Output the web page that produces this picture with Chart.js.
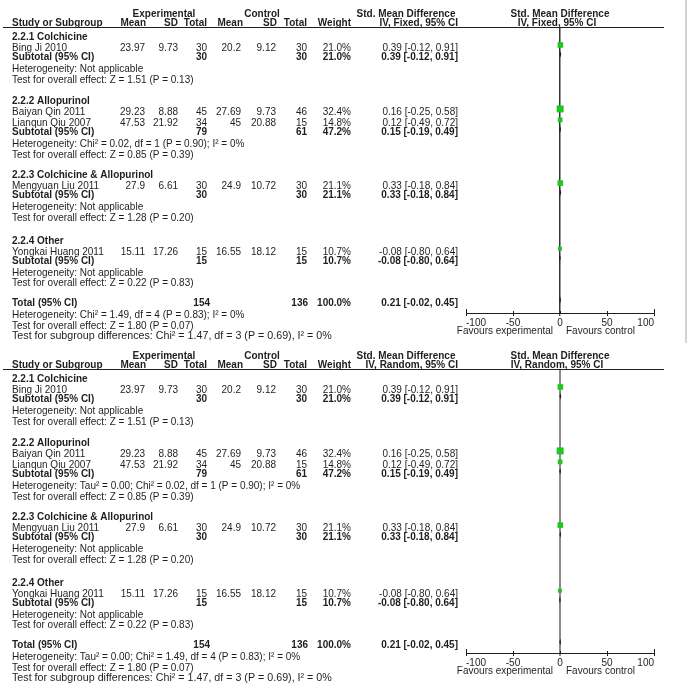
<!DOCTYPE html>
<html>
<head>
<meta charset="utf-8">
<script src="https://cdn.jsdelivr.net/npm/chart.js@4.4.1/dist/chart.umd.min.js"></script>
<style>
  html, body { margin: 0; padding: 0; background: #fff; overflow: hidden; }
  #wrap { position: relative; width: 689px; height: 683px; }
  canvas { position: absolute; left: 0; }
  #edge { position: absolute; left: 685px; top: 0; width: 2px; height: 343px; background: #d4d4d4; }
</style>
</head>
<body>
<div id="wrap">
  <canvas id="fixedPlot" width="689" height="342" style="top:0px"></canvas>
  <canvas id="randomPlot" width="689" height="341" style="top:342px"></canvas>
  <div id="edge"></div>
</div>
<script>
// ---- data ----
var groups = ['2.2.1 Colchicine', '2.2.2 Allopurinol', '2.2.3 Colchicine & Allopurinol', '2.2.4 Other'];
var studies = ['Bing Ji 2010', 'Baiyan Qin 2011', 'Lianqun Qiu 2007', 'Mengyuan Liu 2011', 'Yongkai Huang 2011'];
var studyGroup = [0, 1, 1, 2, 3];
var expMean = ['23.97', '29.23', '47.53', '27.9', '15.11'];
var expSD = ['9.73', '8.88', '21.92', '6.61', '17.26'];
var expTotal = [30, 45, 34, 30, 15];
var ctlMean = ['20.2', '27.69', '45', '24.9', '16.55'];
var ctlSD = ['9.12', '9.73', '20.88', '10.72', '18.12'];
var ctlTotal = [30, 46, 15, 30, 15];
var weight = [21.0, 32.4, 14.8, 21.1, 10.7];
var smd = [0.39, 0.16, 0.12, 0.33, -0.08];
var smdLo = [-0.12, -0.25, -0.49, -0.18, -0.80];
var smdHi = [0.91, 0.58, 0.72, 0.84, 0.64];

var subExpTotal = [30, 79, 30, 15];
var subCtlTotal = [30, 61, 30, 15];
var subWeight = [21.0, 47.2, 21.1, 10.7];
var subSmd = [0.39, 0.15, 0.33, -0.08];
var subLo = [-0.12, -0.19, -0.18, -0.80];
var subHi = [0.91, 0.49, 0.84, 0.64];
var subHetFixed = ['Heterogeneity: Not applicable',
  'Heterogeneity: Chi\u00b2 = 0.02, df = 1 (P = 0.90); I\u00b2 = 0%',
  'Heterogeneity: Not applicable', 'Heterogeneity: Not applicable'];
var subHetRandom = ['Heterogeneity: Not applicable',
  'Heterogeneity: Tau\u00b2 = 0.00; Chi\u00b2 = 0.02, df = 1 (P = 0.90); I\u00b2 = 0%',
  'Heterogeneity: Not applicable', 'Heterogeneity: Not applicable'];
var subEffect = ['Test for overall effect: Z = 1.51 (P = 0.13)', 'Test for overall effect: Z = 0.85 (P = 0.39)',
  'Test for overall effect: Z = 1.28 (P = 0.20)', 'Test for overall effect: Z = 0.22 (P = 0.83)'];

var totalExp = 154, totalCtl = 136, totalWeight = 100.0;
var totalSmd = 0.21, totalLo = -0.02, totalHi = 0.45;
var totalHetFixed = 'Heterogeneity: Chi\u00b2 = 1.49, df = 4 (P = 0.83); I\u00b2 = 0%';
var totalHetRandom = 'Heterogeneity: Tau\u00b2 = 0.00; Chi\u00b2 = 1.49, df = 4 (P = 0.83); I\u00b2 = 0%';
var totalEffect = 'Test for overall effect: Z = 1.80 (P = 0.07)';
var subgroupDiff = 'Test for subgroup differences: Chi\u00b2 = 1.47, df = 3 (P = 0.69), I\u00b2 = 0%';

var xTicks = [-100, -50, 0, 50, 100];

// ---- layout (row units) ----
var groupRow = [0, 5.95, 12.85, 18.95];
var totalRow = 24.75;
var studyRow = [];
(function () {
  var seen = {};
  studies.forEach(function (s, i) {
    var g = studyGroup[i];
    seen[g] = (seen[g] || 0) + 1;
    studyRow.push(groupRow[g] + seen[g] * 1.02);
  });
})();
function lastStudyRow(g) {
  var r = groupRow[g];
  studyGroup.forEach(function (sg, i) { if (sg === g) r = studyRow[i]; });
  return r;
}
var subRow = groups.map(function (g, i) { return lastStudyRow(i) + 0.87; });

var FONT = '"Liberation Sans", Arial, Helvetica, sans-serif';
var INK = '#1e1e1e';
var GREEN = '#1ec81e';
var ROW_PX = 10.75;
var Y_MIN = -0.651;
var TEXT_STRETCH = 1.08;   // the scan is a bit taller than wide

var col = {
  name: 12, eMean: 145, eSD: 178, eTot: 207, cMean: 241, cSD: 276, cTot: 307, weight: 351, ci: 458
};

function ciText(m, lo, hi) {
  return m.toFixed(2) + ' [' + lo.toFixed(2) + ', ' + hi.toFixed(2) + ']';
}

var forestTable = {
  id: 'forestTable',
  beforeDatasetsDraw: function (chart) {
    var ctx = chart.ctx, x = chart.scales.x, y = chart.scales.y;
    ctx.save();
    ctx.strokeStyle = INK;
    ctx.fillStyle = INK;
    ctx.lineWidth = 1;
    // study CIs
    studies.forEach(function (s, i) {
      var py = y.getPixelForValue(studyRow[i]);
      ctx.beginPath();
      ctx.moveTo(x.getPixelForValue(smdLo[i]), py);
      ctx.lineTo(x.getPixelForValue(smdHi[i]), py);
      ctx.stroke();
    });
    // diamonds
    function diamond(m, lo, hi, row) {
      var py = y.getPixelForValue(row), pm = x.getPixelForValue(m);
      var pl = Math.min(x.getPixelForValue(lo), pm - 0.8);
      var ph = Math.max(x.getPixelForValue(hi), pm + 0.8);
      ctx.beginPath();
      ctx.moveTo(pl, py);
      ctx.lineTo(pm, py - 3.5);
      ctx.lineTo(ph, py);
      ctx.lineTo(pm, py + 3.5);
      ctx.closePath();
      ctx.fill();
    }
    groups.forEach(function (g, i) { diamond(subSmd[i], subLo[i], subHi[i], subRow[i]); });
    diamond(totalSmd, totalLo, totalHi, totalRow);
    ctx.restore();
  },
  afterDraw: function (chart, args, opts) {
    var ctx = chart.ctx, x = chart.scales.x, y = chart.scales.y, area = chart.chartArea;
    var x0 = x.getPixelForValue(0);
    ctx.save();
    ctx.fillStyle = INK;
    ctx.textBaseline = 'middle';
    function txtAt(s, px, py, align, bold, sx) {
      ctx.font = (bold ? 'bold ' : '') + '10px ' + FONT;
      ctx.textAlign = align || 'left';
      ctx.save();
      ctx.translate(px, py);
      ctx.scale(sx || 1, TEXT_STRETCH);
      ctx.fillText(s, 0, 0);
      ctx.restore();
    }
    function txt(s, px, row, align, bold, sx) {
      txtAt(s, px, y.getPixelForValue(row) + 3, align, bold, sx);
    }
    // header
    var h1 = area.top - 13, h2 = area.top - 3.5;
    txtAt('Experimental', 164, h1, 'center', true);
    txtAt('Control', 262, h1, 'center', true);
    txtAt('Std. Mean Difference', 406, h1, 'center', true);
    txtAt('Std. Mean Difference', x0, h1, 'center', true);
    txtAt('Study or Subgroup', col.name, h2, 'left', true);
    txtAt('Mean', 146, h2, 'right', true);
    txtAt('SD', 178, h2, 'right', true);
    txtAt('Total', col.eTot, h2, 'right', true);
    txtAt('Mean', 243, h2, 'right', true);
    txtAt('SD', 277, h2, 'right', true);
    txtAt('Total', col.cTot, h2, 'right', true);
    txtAt('Weight', col.weight, h2, 'right', true);
    txtAt(opts.method, col.ci, h2, 'right', true);
    txtAt(opts.method, x0 - 3, h2, 'center', true);
    ctx.strokeStyle = INK;
    ctx.lineWidth = 1;
    ctx.beginPath();
    ctx.moveTo(3, area.top + 0.5);
    ctx.lineTo(664, area.top + 0.5);
    ctx.stroke();

    // subgroups
    groups.forEach(function (g, gi) {
      txt(g, col.name, groupRow[gi], 'left', true);
      studies.forEach(function (s, i) {
        if (studyGroup[i] !== gi) return;
        var r = studyRow[i];
        txt(s, col.name, r);
        txt(expMean[i], col.eMean, r, 'right');
        txt(expSD[i], col.eSD, r, 'right');
        txt(String(expTotal[i]), col.eTot, r, 'right');
        txt(ctlMean[i], col.cMean, r, 'right');
        txt(ctlSD[i], col.cSD, r, 'right');
        txt(String(ctlTotal[i]), col.cTot, r, 'right');
        txt(weight[i].toFixed(1) + '%', col.weight, r, 'right');
        txt(ciText(smd[i], smdLo[i], smdHi[i]), col.ci, r, 'right');
      });
      var sr = subRow[gi];
      txt('Subtotal (95% CI)', col.name, sr, 'left', true);
      txt(String(subExpTotal[gi]), col.eTot, sr, 'right', true);
      txt(String(subCtlTotal[gi]), col.cTot, sr, 'right', true);
      txt(subWeight[gi].toFixed(1) + '%', col.weight, sr, 'right', true);
      txt(ciText(subSmd[gi], subLo[gi], subHi[gi]), col.ci, sr, 'right', true);
      txt(opts.subHet[gi], col.name, sr + 1.1);
      txt(subEffect[gi], col.name, sr + 2.08);
    });
    // total
    txt('Total (95% CI)', col.name, totalRow, 'left', true);
    txt(String(totalExp), col.eTot + 3, totalRow, 'right', true);
    txt(String(totalCtl), col.cTot + 1, totalRow, 'right', true);
    txt(totalWeight.toFixed(1) + '%', col.weight, totalRow, 'right', true);
    txt(ciText(totalSmd, totalLo, totalHi), col.ci, totalRow, 'right', true);
    txt(opts.totalHet, col.name, totalRow + 1.15);
    txt(totalEffect, col.name, totalRow + 2.12);
    txt(subgroupDiff, col.name, totalRow + 3.08, 'left', false, 1.07);

    // axis: short upward tick nubs + favours labels
    ctx.strokeStyle = INK;
    ctx.lineWidth = 1;
    x.ticks.forEach(function (t, i) {
      var px = Math.round(x.getPixelForValue(t.value)) + 0.5;
      var up = (i === 0 || i === x.ticks.length - 1) ? 4 : 2;
      ctx.beginPath();
      ctx.moveTo(px, area.bottom);
      ctx.lineTo(px, area.bottom - up);
      ctx.stroke();
    });
    txtAt('Favours experimental', x0 - 7, area.bottom + 18, 'right');
    txtAt('Favours control', x0 + 6, area.bottom + 18, 'left');
    ctx.restore();
  }
};

function makePlot(id, method, subHet, totalHet, zeroColor, zeroWidth, axisBottom, canvasH) {
  var yMax = Y_MIN + (axisBottom - 27) / ROW_PX;
  return new Chart(document.getElementById(id), {
    type: 'scatter',
    data: {
      datasets: [{
        data: studies.map(function (s, i) { return { x: smd[i], y: studyRow[i] }; }),
        pointStyle: 'rect',
        pointRadius: weight.map(function (w) { return 0.87 * Math.sqrt(w); }),
        backgroundColor: GREEN,
        borderColor: GREEN,
        borderWidth: 0
      }]
    },
    options: {
      responsive: false,
      animation: false,
      events: [],
      layout: { padding: { left: 466, right: 35, top: 27, bottom: canvasH - axisBottom - 20 } },
      plugins: {
        legend: { display: false },
        tooltip: { enabled: false },
        forestTable: { method: method, subHet: subHet, totalHet: totalHet }
      },
      scales: {
        x: {
          type: 'linear',
          min: -100,
          max: 100,
          afterFit: function (scale) { scale.height = 20; },
          afterBuildTicks: function (scale) {
            scale.ticks = xTicks.map(function (v) { return { value: v }; });
          },
          ticks: {
            align: 'inner',
            padding: 1,
            maxRotation: 0,
            color: INK,
            font: { family: FONT, size: 10 }
          },
          grid: {
            drawOnChartArea: true,
            color: function (c) { return c.tick && c.tick.value === 0 ? zeroColor : 'rgba(0,0,0,0)'; },
            lineWidth: function (c) { return c.tick && c.tick.value === 0 ? zeroWidth : 1; },
            tickLength: 3,
            tickColor: INK,
            tickWidth: 1
          },
          border: { display: true, color: INK, width: 1 }
        },
        y: { display: false, reverse: true, min: Y_MIN, max: yMax }
      }
    },
    plugins: [forestTable]
  });
}

var fixedChart = makePlot('fixedPlot', 'IV, Fixed, 95% CI', subHetFixed, totalHetFixed, '#333', 1.5, 313, 342);
var randomChart = makePlot('randomPlot', 'IV, Random, 95% CI', subHetRandom, totalHetRandom, '#8c8c8c', 2, 311, 341);
</script>
</body>
</html>
